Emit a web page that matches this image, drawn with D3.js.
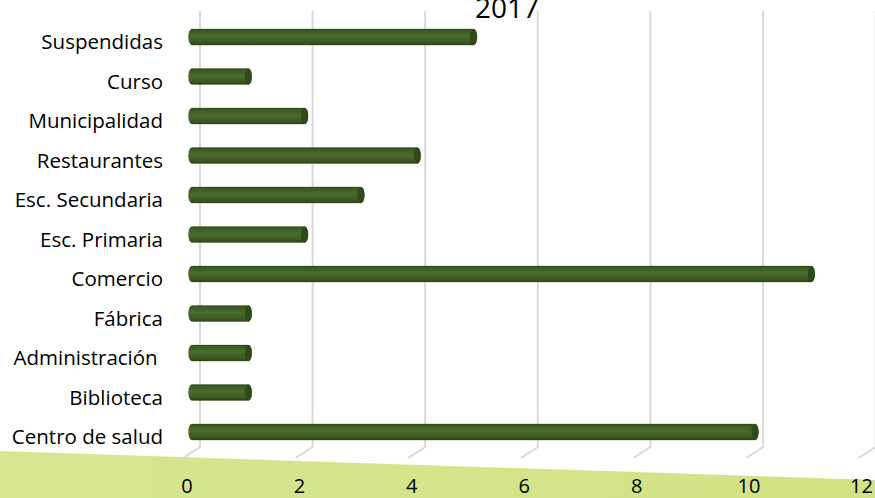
<!DOCTYPE html>
<html>
<head>
<meta charset="utf-8">
<title>2017</title>
<script src="https://d3js.org/d3.v7.min.js"></script>
<style>
  body { margin: 0; background: #fff; }
  text { font-family: 'Open Sans', Lato, sans-serif; fill: #000; white-space: pre; }
</style>
</head>
<body>
<div id="chart"></div>
<script>
// ******* Data *******
const categories = ["Suspendidas", "Curso", "Municipalidad", "Restaurantes", "Esc. Secundaria",
  "Esc. Primaria", "Comercio", "Fábrica", "Administración ", "Biblioteca", "Centro de salud"];
const values = [5, 1, 2, 4, 3, 2, 11, 1, 1, 1, 10];
const ticks = [0, 2, 4, 6, 8, 10, 12];
const title = "2017";

// ******* Constants *******
const width = 875, height = 498;
const depth = 16;      // 3d offset of the floor
const barH = 16;

const svg = d3.select("#chart").append("svg")
    .attr("width", width)
    .attr("height", height);

const defs = svg.append("defs");

const floorGrad = defs.append("linearGradient").attr("id", "floor")
    .attr("x1", 0).attr("x2", 1).attr("y1", 0).attr("y2", 0);
floorGrad.append("stop").attr("offset", "0%").attr("stop-color", "#d6e692");
floorGrad.append("stop").attr("offset", "100%").attr("stop-color", "#d2e384");

const barGrad = defs.append("linearGradient").attr("id", "bar")
    .attr("x1", 0).attr("x2", 0).attr("y1", 0).attr("y2", 1);
barGrad.append("stop").attr("offset", "0%").attr("stop-color", "#33511d");
barGrad.append("stop").attr("offset", "25%").attr("stop-color", "#416227");
barGrad.append("stop").attr("offset", "45%").attr("stop-color", "#4a6c2d");
barGrad.append("stop").attr("offset", "80%").attr("stop-color", "#3a5a22");
barGrad.append("stop").attr("offset", "100%").attr("stop-color", "#2a4418");

// ******* Scales *******
const xBack = d3.scaleLinear().domain([0, 12]).range([200, 200 + 56.3 * 12]);
const xBar = v => xBack(v) - depth / 2;
const xFront = d3.scaleLinear().domain([0, 12]).range([187, 187 + 56.2 * 12]);
const y = d3.scalePoint().domain(categories).range([37, 432]);

// ******* Floor *******
svg.append("path")
    .attr("d", d3.line()([[0, 451], [width, 480], [width, height], [0, height]]) + "Z")
    .attr("fill", "url(#floor)");

// ******* Gridlines *******
const grid = svg.append("g");
grid.selectAll("path").data(ticks).enter().append("path")
    .attr("d", d => `M${xBack(d)},11 L${xBack(d)},447 L${xBack(d) - 17},458`)
    .attr("fill", "none")
    .attr("stroke", "#d9d9d9")
    .attr("stroke-width", 2);

// ******* Bars *******
const rx = 3.5, ry = barH / 2;
const bars = svg.append("g").selectAll("g")
    .data(categories.map((c, i) => ({ c, v: values[i] })))
    .enter().append("g")
    .attr("transform", d => `translate(0,${y(d.c)})`);

bars.append("path")
    .attr("d", d => {
      const x0 = xBar(0), x1 = xBar(d.v);
      return `M${x1},${-ry} L${x0},${-ry} A${rx},${ry} 0 0 0 ${x0},${ry} L${x1},${ry} A${rx},${ry} 0 0 0 ${x1},${-ry} Z`;
    })
    .attr("fill", "url(#bar)")
    .attr("stroke", "rgba(40,60,20,0.35)")
    .attr("stroke-width", 0.8);

bars.append("ellipse")
    .attr("cx", d => xBar(d.v))
    .attr("cy", 0)
    .attr("rx", rx)
    .attr("ry", ry)
    .attr("fill", "#2e4a1b");

// ******* Category labels *******
svg.append("g").selectAll("text")
    .data(categories).enter().append("text")
    .attr("x", 163)
    .attr("y", d => y(d) + 12)
    .attr("text-anchor", "end")
    .attr("font-size", 20.5)
    .text(d => d);

// ******* Value axis labels *******
svg.append("g").selectAll("text")
    .data(ticks).enter().append("text")
    .attr("x", d => xFront(d))
    .attr("y", 493)
    .attr("text-anchor", "middle")
    .attr("font-size", 20)
    .text(d => d);

// ******* Title *******
svg.append("text")
    .attr("x", 507)
    .attr("y", 18)
    .attr("text-anchor", "middle")
    .attr("font-size", 28)
    .text(title);
</script>
</body>
</html>
